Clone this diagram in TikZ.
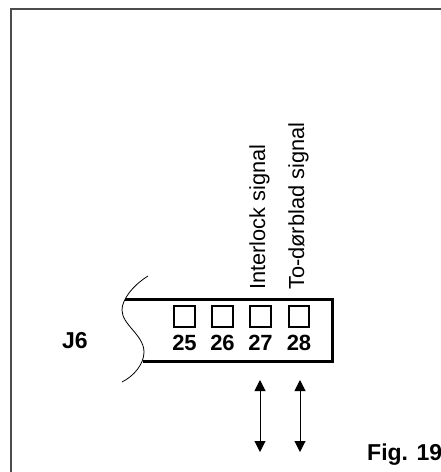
\documentclass[tikz,border=0pt]{standalone}
\usepackage{fontspec}
\setmainfont{Liberation Sans}
\usetikzlibrary{arrows.meta}
\tikzset{
    pinbox/.style={draw, line width=2pt, minimum size=20.5pt, inner sep=0pt},
    pinnum/.style={font=\fontsize{22}{24}\selectfont\bfseries, inner sep=0pt},
    signaltext/.style={font=\fontsize{21.8}{24}\selectfont, rotate=90, anchor=base west, inner sep=0pt},
    signalarrow/.style={line width=1pt, {Triangle[length=11pt,width=11pt]}-{Triangle[length=11pt,width=11pt]}}
}
\begin{document}
\begin{tikzpicture}[x=1pt, y=-1pt]
        \useasboundingbox (0,0) rectangle (441,472);

        % Frame
        \draw[line width=1.5pt, black!70] (11,472) -- (11,9) -- (441,9);

        % Connector body
        \draw[line width=3pt] (125,299) -- (332,299) -- (332,361.5) -- (143,361.5);
        \draw[line width=0.8pt] (148,276) .. controls (132,286) and (122,300) .. (122,310)
            .. controls (122,325) and (144,335) .. (144,352)
            .. controls (144,364) and (134,376) .. (122,382);

        % Pins
        \foreach \pin/\xpin in {25/184.5, 26/222.5, 27/260.5, 28/299}{
            \node[pinbox] (box\pin) at (\xpin,316.5) {};
            \node[pinnum] (num\pin) at (\xpin,343) {\pin};
        }

        % Labels
        \node[font=\fontsize{23}{25}\selectfont\bfseries, inner sep=0pt] (jsix) at (75,341) {J6};
        \node[signaltext] (interlock) at (265,290) {Interlock signal};
        \node[signaltext] (todoor) at (304,290) {To-dørblad signal};
        \node[font=\fontsize{23}{25}\selectfont\bfseries, anchor=base west, inner sep=0pt] (figlabel) at (367,460) {Fig. 19};

        % Arrows
        \coordinate (atop) at (260,380);
        \coordinate (abot) at (260,452);
        \coordinate (btop) at (300,380);
        \coordinate (bbot) at (300,452);
        \draw[signalarrow] (atop) -- (abot);
        \draw[signalarrow] (btop) -- (bbot);
    \end{tikzpicture}
\end{document}
